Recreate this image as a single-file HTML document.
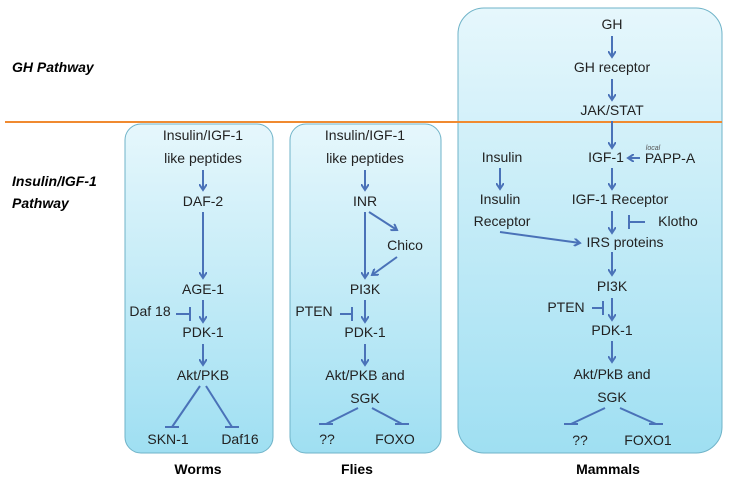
<!DOCTYPE html>
<html><head><meta charset="utf-8"><style>
html,body{margin:0;padding:0;background:#fff;}
svg{display:block;font-family:"Liberation Sans",sans-serif;}
text{font-size:14px;fill:#222;text-anchor:middle;}
.lbl{font-weight:bold;font-size:14px;fill:#000;}
.side{font-style:italic;font-weight:bold;text-anchor:start;fill:#000;}
</style></head><body>
<svg id="d" width="729" height="481" viewBox="0 0 729 481">
<defs>
<linearGradient id="g" x1="0" y1="0" x2="0" y2="1"><stop offset="0" stop-color="#e6f7fc"/><stop offset="1" stop-color="#9fdff2"/></linearGradient>
<marker id="ah" markerWidth="8" markerHeight="8" refX="6" refY="4" orient="auto" markerUnits="userSpaceOnUse"><path d="M0,0 L6,4 L0,8" fill="none" stroke="#4a72b8" stroke-width="2"/></marker>
</defs>
<rect x="125" y="124" width="148" height="329" rx="16" fill="url(#g)" stroke="#6fb3c8"/>
<rect x="290" y="124" width="151" height="329" rx="16" fill="url(#g)" stroke="#6fb3c8"/>
<rect x="458" y="8" width="264" height="445" rx="26" fill="url(#g)" stroke="#6fb3c8"/>
<line x1="5" y1="122" x2="722" y2="122" stroke="#f08a30" stroke-width="2"/>
<text class="side" x="12" y="72">GH Pathway</text>
<text class="side" x="12" y="186">Insulin/IGF-1</text>
<text class="side" x="12" y="208">Pathway</text>
<g id="t"></g><g id="a"></g>
<text class="lbl" x="198" y="474">Worms</text>
<text class="lbl" x="357" y="474">Flies</text>
<text class="lbl" x="608" y="474">Mammals</text>
<text x="653" y="150" style="font-size:7px;font-style:italic;fill:#555">local</text>
</svg>
<script>
const NS="http://www.w3.org/2000/svg";
const labels=[
["Insulin/IGF-1",203,140],["like peptides",203,163],["DAF-2",203,206],["AGE-1",203,294],["Daf 18",150,316],["PDK-1",203,337],["Akt/PKB",203,380],["SKN-1",168,444],["Daf16",240,444],
["Insulin/IGF-1",365,140],["like peptides",365,163],["INR",365,206],["Chico",405,250],["PI3K",365,294],["PTEN",314,316],["PDK-1",365,337],["Akt/PKB and",365,380],["SGK",365,403],["??",327,444],["FOXO",395,444],
["GH",612,29],["GH receptor",612,72],["JAK/STAT",612,115],["IGF-1",606,162],["PAPP-A",670,163],["Insulin",502,162],["Insulin",500,204],["Receptor",502,226],["IGF-1 Receptor",620,204],["Klotho",678,226],["IRS proteins",625,247],["PI3K",612,291],["PTEN",566,312],["PDK-1",612,335],["Akt/PkB and",612,379],["SGK",612,402],["??",580,445],["FOXO1",648,445]];
const tg=document.getElementById('t');
labels.forEach(l=>{const e=document.createElementNS(NS,'text');e.setAttribute('x',l[1]);e.setAttribute('y',l[2]);e.textContent=l[0];


tg.appendChild(e);});
const edges=[
[203,170,203,190,'a'],[203,212,203,278,'a'],[203,300,203,322,'a'],[203,344,203,365,'a'],[200,386,172,427,'i'],[206,386,232,427,'i'],[176,314,190,314,'t'],
[365,170,365,190,'a'],[365,212,365,278,'a'],[369,212,397,230,'a'],[397,257,372,275,'a'],[365,300,365,322,'a'],[365,344,365,365,'a'],[358,408,326,424,'i'],[372,408,402,424,'i'],[340,314,352,314,'t'],
[612,36,612,57,'a'],[612,79,612,100,'a'],[612,121,612,148,'a'],[640,158,628,158,'a'],[612,168,612,189,'a'],[612,211,612,233,'a'],[645,222,629,222,'t'],[500,168,500,189,'a'],[500,232,580,243,'a'],[612,252,612,275,'a'],[612,298,612,320,'a'],[612,341,612,362,'a'],[605,408,571,424,'i'],[620,408,656,424,'i'],[592,308,603,308,'t']];
const ag=document.getElementById('a');
edges.forEach(e=>{let [x1,y1,x2,y2,t]=e;
 const ln=document.createElementNS(NS,'line');ln.setAttribute('x1',x1);ln.setAttribute('y1',y1);ln.setAttribute('x2',x2);ln.setAttribute('y2',y2);
 ln.setAttribute('stroke','#4a72b8');ln.setAttribute('stroke-width','2');
 if(t==='a')ln.setAttribute('marker-end','url(#ah)');
 
 
 ag.appendChild(ln);
 if(t==='i'||t==='t'){const b=document.createElementNS(NS,'line');
  if(t==='i'){b.setAttribute('x1',x2-7);b.setAttribute('x2',x2+7);b.setAttribute('y1',y2);b.setAttribute('y2',y2);}
  else{b.setAttribute('x1',x2);b.setAttribute('x2',x2);b.setAttribute('y1',y2-7);b.setAttribute('y2',y2+7);}
  b.setAttribute('stroke','#4a72b8');b.setAttribute('stroke-width','2');
  
  
  ag.appendChild(b);}
});
</script>
</body></html>
